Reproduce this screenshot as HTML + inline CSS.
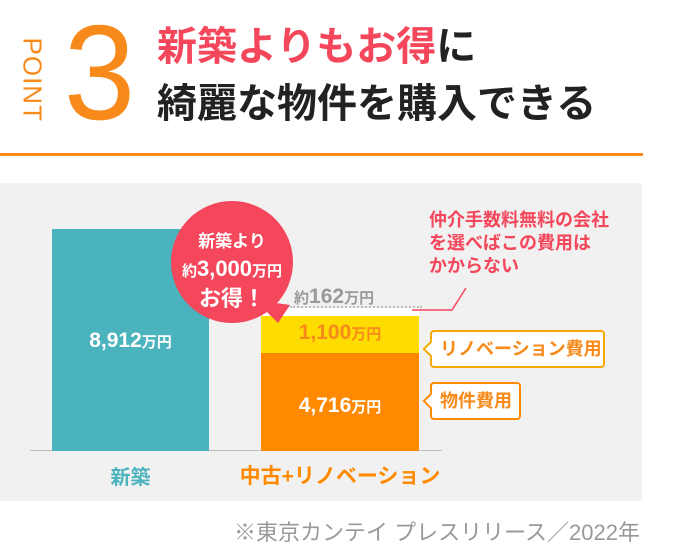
<!DOCTYPE html>
<html><head><meta charset="utf-8"><style>
body{margin:0;width:690px;height:547px;background:#fff;position:relative;overflow:hidden;font-family:"Liberation Sans","Noto Sans CJK JP",sans-serif}
.a{position:absolute;white-space:nowrap}
.b{font-weight:bold}
.bx:before{content:"";position:absolute;left:-7px;top:11px;width:10px;height:10px;background:#fff;border-left:2px solid;border-bottom:2px solid;border-color:inherit;transform:rotate(45deg)}
</style></head><body>
<div class="a" style="left:-8px;top:62px;width:80px;text-align:center;transform:rotate(90deg);color:#f78a1b;font-size:26px;letter-spacing:1px;font-weight:300">POINT</div>
<div class="a" style="left:62px;top:5px;font-size:135px;line-height:135px;color:#f78a1b;font-weight:100;transform:scaleX(0.95)">3</div>
<div class="a b" style="left:157px;top:25px;font-size:40px;line-height:44px;color:#222"><span style="color:#f4475b">新築よりもお得</span>に</div>
<div class="a b" style="left:157px;top:82px;font-size:40px;line-height:44px;color:#222">綺麗な物件を購入できる</div>
<div class="a" style="left:0;top:153px;width:643px;height:3px;background:#f78a1b"></div>

<div class="a" style="left:0;top:183px;width:642px;height:318px;background:#f1f1f1"></div>
<div class="a" style="left:30px;top:450px;width:412px;height:1px;background:#bbb"></div>
<div class="a" style="left:52px;top:229px;width:157px;height:222px;background:#4bb3bd"></div>
<div class="a b" style="left:52px;top:329px;width:157px;text-align:center;color:#fff;font-size:21px">8,912<span style="font-size:15px">万円</span></div>
<div class="a" style="left:261px;top:316px;width:158px;height:37px;background:#ffdc00"></div>
<div class="a" style="left:261px;top:353px;width:158px;height:98px;background:#ff8a00"></div>
<div class="a b" style="left:261px;top:321px;width:158px;text-align:center;color:#f78a1b;font-size:21px">1,100<span style="font-size:15px">万円</span></div>
<div class="a b" style="left:261px;top:394px;width:158px;text-align:center;color:#fff;font-size:21px">4,716<span style="font-size:15px">万円</span></div>
<div class="a" style="left:290px;top:306px;width:132px;border-top:2px dotted #bbb"></div>
<div class="a" style="left:261px;top:308px;width:158px;height:8px;background:#fff"></div>
<div class="a b" style="left:294px;top:285px;color:#999;font-size:21px"><span style="font-size:15px">約</span>162<span style="font-size:15px">万円</span></div>
<svg class="a" style="left:0;top:0" width="690" height="547"><polyline points="412,310 452,310 466,288" fill="none" stroke="#f4475b" stroke-width="1.5"/>
<circle cx="232" cy="262" r="61" fill="#f4475b"/><polygon points="255,300 290,305 278,323" fill="#f4475b"/></svg>
<div class="a b" style="left:167px;top:228px;width:130px;text-align:center;color:#fff;font-size:17px;line-height:27px">新築より<br><span style="font-size:15px">約</span><span style="font-size:22px">3,000</span><span style="font-size:15px">万円</span><br><span style="font-size:22px">お得！</span></div>
<div class="a b" style="left:429px;top:209px;color:#f4475b;font-size:18px;line-height:23px">仲介手数料無料の会社<br>を選べばこの費用は<br>かからない</div>
<div class="a b bx" style="left:430px;top:330px;width:171px;height:34px;border:2px solid #f5a800;border-radius:4px;background:#fff;color:#f78a1b;font-size:18px;line-height:34px;text-indent:8px">リノベーション費用</div>
<div class="a b bx" style="left:430px;top:382px;width:87px;height:34px;border:2px solid #ff8a00;border-radius:4px;background:#fff;color:#f78a1b;font-size:18px;line-height:34px;text-indent:8px">物件費用</div>
<div class="a b" style="left:52px;top:461px;width:157px;text-align:center;color:#4bb3bd;font-size:20px">新築</div>
<div class="a b" style="left:200px;top:460px;width:280px;text-align:center;color:#ff8a00;font-size:21px">中古+リノベーション</div>
<div class="a" style="right:50px;top:515px;color:#999;font-size:22px">※東京カンテイ プレスリリース／2022年</div>
</body></html>
